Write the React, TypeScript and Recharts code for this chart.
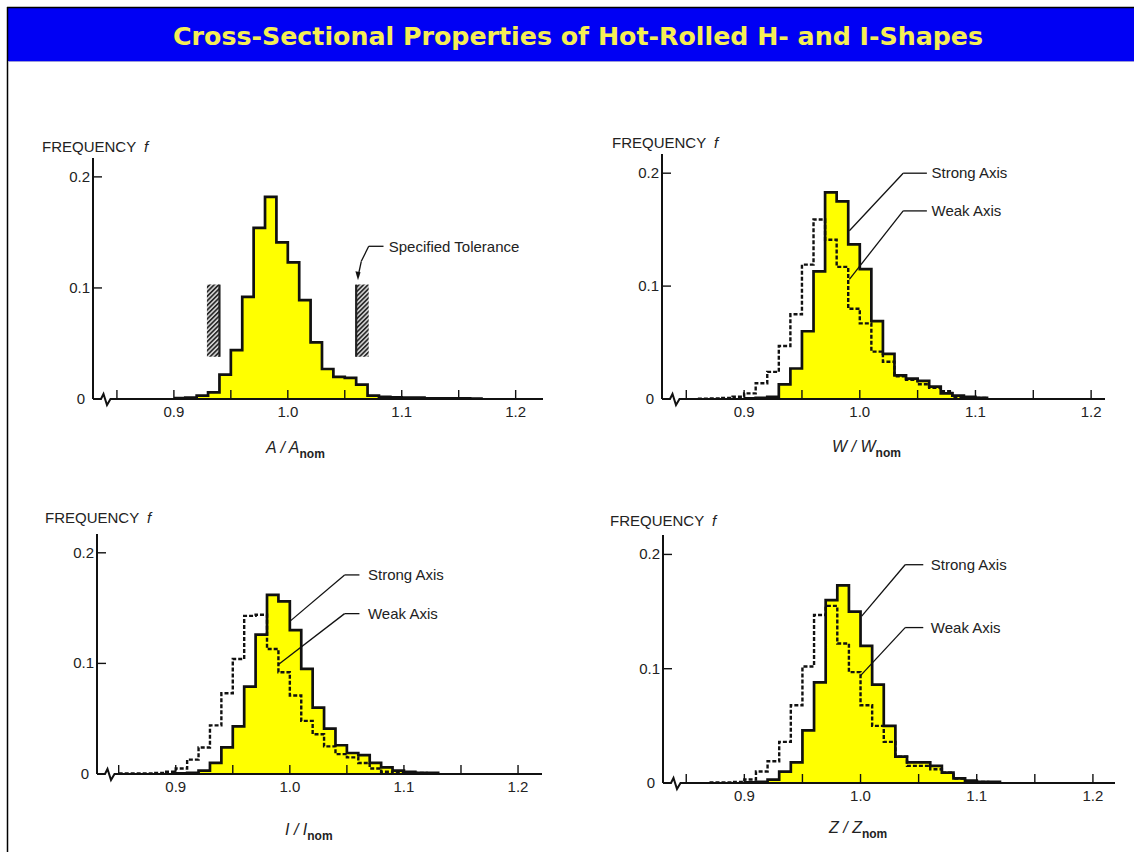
import React from 'react';
import {
  ComposedChart,
  Area,
  Line,
  XAxis,
  YAxis,
  ReferenceLine,
  ReferenceDot,
  ReferenceArea,
} from 'recharts';

// ---------- data ----------
const binEdges = [
  0.85, 0.86, 0.87, 0.88, 0.89, 0.9, 0.91, 0.92, 0.93, 0.94, 0.95, 0.96, 0.97, 0.98, 0.99, 1.0, 1.01,
  1.02, 1.03, 1.04, 1.05, 1.06, 1.07, 1.08, 1.09, 1.1, 1.11, 1.12, 1.13, 1.14, 1.15, 1.16, 1.17, 1.18,
];

const xTicks = [0.85, 0.9, 0.95, 1.0, 1.05, 1.1, 1.15, 1.2];
const xTickLabels = ['0.9', '1.0', '1.1', '1.2'];
const yTicks = [0, 0.1, 0.2];
const yTickLabels = ['0', '0.1', '0.2'];

const N = null;
const areaStrong = [N, N, N, N, N, 0.0008, 0.0012, 0.003, 0.006, 0.022, 0.044, 0.092, 0.154, 0.182, 0.141, 0.123, 0.089, 0.051, 0.027, 0.02, 0.019, 0.013, 0.003, 0.002, 0.0015, 0.0012, 0.0012, 0.0006, 0.0006, 0.0005, 0.0005, 0.0004, 0, N];

const wStrong = [N, N, N, N, N, 0.0005, 0.001, 0.002, 0.013, 0.027, 0.06, 0.113, 0.183, 0.175, 0.137, 0.115, 0.069, 0.04, 0.021, 0.018, 0.016, 0.011, 0.005, 0.003, 0.002, 0.001, 0, N, N, N, N, N, N, N];
const wWeak = [N, 0.0003, 0.0004, 0.001, 0.002, 0.005, 0.014, 0.024, 0.047, 0.075, 0.119, 0.159, 0.141, 0.117, 0.08, 0.067, 0.042, 0.033, 0.02, 0.017, 0.013, 0.01, 0.007, 0.002, 0.001, 0.001, 0, N, N, N, N, N, N, N];

const iStrong = [N, N, N, N, N, 0.0005, 0.001, 0.003, 0.01, 0.024, 0.043, 0.079, 0.126, 0.162, 0.156, 0.13, 0.095, 0.06, 0.041, 0.026, 0.019, 0.017, 0.01, 0.006, 0.003, 0.002, 0.001, 0.001, 0, N, N, N, N, N];
const iWeak = [0.0005, 0.0005, 0.0005, 0.001, 0.002, 0.005, 0.013, 0.024, 0.044, 0.073, 0.104, 0.143, 0.144, 0.113, 0.092, 0.071, 0.048, 0.036, 0.025, 0.018, 0.015, 0.01, 0.005, 0.002, 0.001, 0.001, 0.001, 0, N, N, N, N, N, N];

const zStrong = [N, N, N, N, N, 0.0005, 0.001, 0.003, 0.01, 0.018, 0.046, 0.088, 0.16, 0.173, 0.15, 0.12, 0.086, 0.05, 0.023, 0.018, 0.018, 0.015, 0.009, 0.004, 0.002, 0.001, 0.001, 0, N, N, N, N, N, N];
const zWeak = [N, N, 0.0005, 0.0005, 0.001, 0.003, 0.01, 0.019, 0.036, 0.068, 0.102, 0.147, 0.155, 0.122, 0.097, 0.068, 0.05, 0.036, 0.023, 0.015, 0.015, 0.012, 0.009, 0.004, 0.001, 0.001, 0, N, N, N, N, N, N, N];

// tolerance bars (A panel)
const tolerance = [
  { x1: 0.929, x2: 0.94, edge: 0.94, y1: 0.038, y2: 0.103 },
  { x1: 1.06, x2: 1.071, edge: 1.06, y1: 0.038, y2: 0.103 },
];

const FONT = '"Liberation Sans", Arial, Helvetica, sans-serif';
const INK = '#111';

type Leader = { text: string; elbow: [number, number]; tail: number; tip: [number, number]; tx: number };

type Panel = {
  key: string;
  rect: { l: number; r: number; t: number; b: number };
  xDomain: [number, number];
  strong: (number | null)[];
  weak?: (number | null)[];
  leaders: Leader[];
  freq: { x: number; y: number };
  title: { x: number; y: number; sym: string };
};

const panels: Panel[] = [
  {
    key: 'A',
    rect: { l: 93, r: 543, t: 158, b: 399 },
    xDomain: [0.829, 1.224],
    strong: areaStrong,
    leaders: [],
    freq: { x: 42, y: 152 },
    title: { x: 266, y: 453, sym: 'A' },
  },
  {
    key: 'W',
    rect: { l: 662, r: 1105, t: 154, b: 399 },
    xDomain: [0.829, 1.212],
    strong: wStrong,
    weak: wWeak,
    leaders: [
      { text: 'Strong Axis', elbow: [1.0375, 0.2], tail: 1.058, tip: [0.991, 0.149], tx: 1.062 },
      { text: 'Weak Axis', elbow: [1.0375, 0.1666], tail: 1.058, tip: [0.991, 0.106], tx: 1.062 },
    ],
    freq: { x: 612, y: 148 },
    title: { x: 832, y: 452, sym: 'W' },
  },
  {
    key: 'I',
    rect: { l: 97, r: 542, t: 534, b: 774 },
    xDomain: [0.831, 1.221],
    strong: iStrong,
    weak: iWeak,
    leaders: [
      { text: 'Strong Axis', elbow: [1.048, 0.18], tail: 1.061, tip: [1.0, 0.138], tx: 1.0685 },
      { text: 'Weak Axis', elbow: [1.048, 0.145], tail: 1.061, tip: [0.99, 0.099], tx: 1.0685 },
    ],
    freq: { x: 45, y: 523 },
    title: { x: 285, y: 835, sym: 'I' },
  },
  {
    key: 'Z',
    rect: { l: 663, r: 1115, t: 535, b: 783 },
    xDomain: [0.83, 1.219],
    strong: zStrong,
    weak: zWeak,
    leaders: [
      { text: 'Strong Axis', elbow: [1.0384, 0.191], tail: 1.054, tip: [1.001, 0.146], tx: 1.0605 },
      { text: 'Weak Axis', elbow: [1.0384, 0.136], tail: 1.054, tip: [1.0, 0.094], tx: 1.0605 },
    ],
    freq: { x: 610, y: 526 },
    title: { x: 829, y: 833, sym: 'Z' },
  },
];

const Y_DOMAIN: [number, number] = [0, 0.217];
const YW = 60;
const MT = 10;
const MR = 10;
const XH = 30;

const XTick = (props: any) => {
  const { x, y, payload } = props;
  const v = payload.value as number;
  const idx = xTicks.indexOf(v);
  const label = idx % 2 === 1 ? xTickLabels[(idx - 1) / 2] : null;
  return (
    <g>
      <line x1={x} y1={y} x2={x} y2={y - 9} stroke={INK} strokeWidth={1.4} />
      {label && (
        <text x={x} y={y + 18} textAnchor="middle" fontSize={15} fill="#222" fontFamily={FONT}>
          {label}
        </text>
      )}
    </g>
  );
};

const YTick = (props: any) => {
  const { x, y, payload } = props;
  const v = payload.value as number;
  const idx = yTicks.indexOf(v);
  const isZero = v === 0;
  return (
    <g>
      {!isZero && <line x1={x} y1={y} x2={x + 9} y2={y} stroke={INK} strokeWidth={1.4} />}
      <text
        x={isZero ? x - 8 : x - 3}
        y={y + 5}
        textAnchor="end"
        fontSize={15}
        fill="#222"
        fontFamily={FONT}
      >
        {yTickLabels[idx]}
      </text>
    </g>
  );
};

function HistPanel({ p }: { p: Panel }) {
  const { rect, xDomain } = p;
  const w = rect.r - rect.l + YW + MR;
  const h = rect.b - rect.t + MT + XH;
  const pxPerUnit = (rect.r - rect.l) / (xDomain[1] - xDomain[0]);
  const xBreak = xDomain[0] + 19 / pxPerUnit;
  const data = binEdges.map((x, i) => ({
    x,
    s: p.strong[i],
    w: p.weak ? p.weak[i] : null,
  }));

  return (
    <div style={{ position: 'absolute', left: rect.l - YW, top: rect.t - MT }}>
      <ComposedChart width={w} height={h} data={data} margin={{ top: MT, right: MR, bottom: 0, left: 0 }}>
        <XAxis
          type="number"
          dataKey="x"
          domain={xDomain}
          allowDataOverflow
          ticks={xTicks}
          interval={0}
          tickSize={0}
          tickMargin={0}
          axisLine={false}
          tickLine={false}
          tick={XTick}
          height={XH}
        />
        <YAxis
          type="number"
          domain={Y_DOMAIN}
          allowDataOverflow
          ticks={yTicks}
          interval={0}
          width={YW}
          tickSize={0}
          tickMargin={0}
          tickLine={false}
          axisLine={{ stroke: INK, strokeWidth: 2 }}
          tick={YTick}
        />
        <Area
          dataKey="s"
          type="stepAfter"
          fill="#FFFF00"
          fillOpacity={1}
          stroke="none"
          isAnimationActive={false}
          dot={false}
          activeDot={false}
        />
        {p.weak && (
          <Line
            dataKey="w"
            type="stepAfter"
            stroke={INK}
            strokeWidth={2.4}
            strokeDasharray="4 2"
            dot={false}
            activeDot={false}
            isAnimationActive={false}
          />
        )}
        <Line
          dataKey="s"
          type="stepAfter"
          stroke={INK}
          strokeWidth={2.7}
          dot={false}
          activeDot={false}
          isAnimationActive={false}
        />
        {/* x-axis line after the break */}
        <ReferenceLine
          segment={[{ x: xBreak, y: 0 }, { x: xDomain[1], y: 0 }]}
          stroke={INK}
          strokeWidth={2}
          ifOverflow="visible"
        />
        {/* axis break squiggle */}
        <ReferenceDot
          x={xDomain[0]}
          y={0}
          r={0}
          ifOverflow="visible"
          shape={(s: any) => (
            <path
              d={`M${s.cx},${s.cy} L${s.cx + 8},${s.cy} L${s.cx + 10.5},${s.cy - 5} L${s.cx + 14},${s.cy + 6} L${s.cx + 17.5},${s.cy} L${s.cx + 20},${s.cy}`}
              fill="none"
              stroke={INK}
              strokeWidth={2}
              strokeLinejoin="miter"
            />
          )}
        />
        {p.key === 'A' &&
          tolerance.map((t, i) => (
            <ReferenceArea
              key={'ta' + i}
              x1={t.x1}
              x2={t.x2}
              y1={t.y1}
              y2={t.y2}
              fill="url(#hatch)"
              fillOpacity={1}
              stroke="none"
              ifOverflow="visible"
            />
          ))}
        {p.key === 'A' &&
          tolerance.map((t, i) => (
            <ReferenceLine
              key={'te' + i}
              segment={[{ x: t.edge, y: t.y1 }, { x: t.edge, y: t.y2 }]}
              stroke="#222"
              strokeWidth={2.2}
              ifOverflow="visible"
            />
          ))}
        {p.key === 'A' && (
          <ReferenceLine
            segment={[{ x: 1.071, y: 0.1375 }, { x: 1.084, y: 0.1375 }]}
            stroke={INK}
            strokeWidth={1.3}
            ifOverflow="visible"
          />
        )}
        {p.key === 'A' && (
          <ReferenceLine
            segment={[{ x: 1.071, y: 0.1375 }, { x: 1.0645, y: 0.124 }]}
            stroke={INK}
            strokeWidth={1.3}
            ifOverflow="visible"
          />
        )}
        {p.key === 'A' && (
          <ReferenceLine
            segment={[{ x: 1.0645, y: 0.124 }, { x: 1.0622, y: 0.113 }]}
            stroke={INK}
            strokeWidth={1.3}
            ifOverflow="visible"
          />
        )}
        {p.key === 'A' && (
          <ReferenceDot
            x={1.0616}
            y={0.107}
            r={0}
            ifOverflow="visible"
            shape={(s: any) => (
              <path d={`M${s.cx},${s.cy} L${s.cx - 2.6},${s.cy - 9} L${s.cx + 2.6},${s.cy - 8} Z`} fill={INK} />
            )}
          />
        )}
        {p.key === 'A' && (
          <ReferenceDot
            x={1.0886}
            y={0.137}
            r={0}
            ifOverflow="visible"
            shape={(s: any) => (
              <text x={s.cx} y={s.cy + 5} fontSize={15} fill="#222" fontFamily={FONT}>
                Specified Tolerance
              </text>
            )}
          />
        )}
        {p.leaders.map((ld, i) => (
          <ReferenceLine
            key={'lh' + i}
            segment={[{ x: ld.elbow[0], y: ld.elbow[1] }, { x: ld.tail, y: ld.elbow[1] }]}
            stroke={INK}
            strokeWidth={1.3}
            ifOverflow="visible"
          />
        ))}
        {p.leaders.map((ld, i) => (
          <ReferenceLine
            key={'ld' + i}
            segment={[{ x: ld.elbow[0], y: ld.elbow[1] }, { x: ld.tip[0], y: ld.tip[1] }]}
            stroke={INK}
            strokeWidth={1.3}
            ifOverflow="visible"
          />
        ))}
        {p.leaders.map((ld, i) => (
          <ReferenceDot
            key={'lt' + i}
            x={ld.tx}
            y={ld.elbow[1]}
            r={0}
            ifOverflow="visible"
            shape={(s: any) => (
              <text x={s.cx} y={s.cy + 5} fontSize={15} fill="#222" fontFamily={FONT}>
                {ld.text}
              </text>
            )}
          />
        ))}
      </ComposedChart>
    </div>
  );
}

export default function App() {
  return (
    <div style={{ position: 'absolute', left: 0, top: 0, width: 1134, height: 852, background: '#fff', overflow: 'hidden' }}>
      <svg width={1134} height={852} style={{ position: 'absolute', left: 0, top: 0 }}>
        <defs>
          <pattern id="hatch" patternUnits="userSpaceOnUse" width={3.2} height={3.2} patternTransform="rotate(45)">
            <rect x={0} y={0} width={3.2} height={3.2} fill="#d8d8d8" />
            <rect x={0} y={0} width={1.7} height={3.2} fill="#2a2a2a" />
          </pattern>
        </defs>
        <rect x={8} y={8} width={1126} height={53} fill="#0000F4" />
        <line x1={7} y1={7.5} x2={1134} y2={7.5} stroke="#000" strokeWidth={1.5} />
        <line x1={7.5} y1={7} x2={7.5} y2={852} stroke="#000" strokeWidth={1.5} />
        <line x1={8} y1={61.5} x2={1134} y2={61.5} stroke="#9a9ad8" strokeWidth={1} />
        <text
          x={173}
          y={45}
          fontSize={25}
          fontWeight="bold"
          fill="#F5EE55"
          fontFamily='"DejaVu Sans Condensed", "DejaVu Sans", Verdana, sans-serif'
          textLength={810}
          lengthAdjust="spacingAndGlyphs"
        >
          Cross-Sectional  Properties of Hot-Rolled H- and I-Shapes
        </text>
        {panels.map((p) => (
          <g key={'lbl' + p.key}>
            <text x={p.freq.x} y={p.freq.y} fontSize={15} fill="#222" fontFamily={FONT}>
              FREQUENCY <tspan fontStyle="italic" dx={4}>f</tspan>
            </text>
            <text x={p.title.x} y={p.title.y} fontSize={16} fill="#222" fontFamily={FONT} fontStyle="italic">
              {p.title.sym} / {p.title.sym}
              <tspan fontStyle="normal" fontWeight="bold" fontSize={12} dy={5}>
                nom
              </tspan>
            </text>
          </g>
        ))}
      </svg>
      {panels.map((p) => (
        <HistPanel key={p.key} p={p} />
      ))}
    </div>
  );
}
